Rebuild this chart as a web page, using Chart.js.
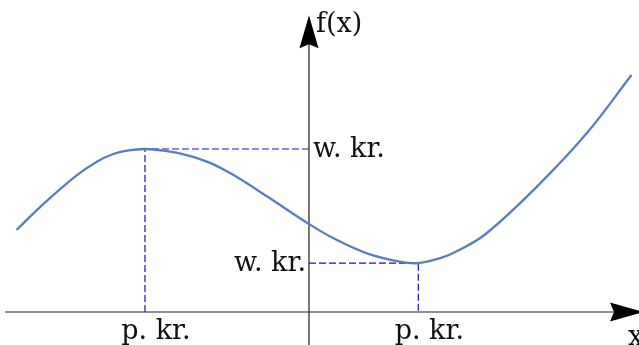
<!DOCTYPE html>
<html>
<head>
<meta charset="utf-8">
<script src="https://cdn.jsdelivr.net/npm/chart.js@4"></script>
<style>
  html, body { margin: 0; padding: 0; background: #fff; }
  #wrap { width: 639px; height: 345px; }
</style>
</head>
<body>
<div id="wrap"><canvas id="chart"></canvas></div>
<script>
// Function sketch with two critical points

const curveX = [-5.35, -4.86, -4.25, -3.88, -3.58, -3.33, -3, -2.66, -2.24, -1.81, -1.38, -0.77,
  0, 0.45, 1.06, 1.66, 2, 2.4, 2.76, 3.25, 4.17, 5.08, 5.9];
const curveY = [5.03, 6.62, 8.38, 9.22, 9.69, 9.9, 10, 9.9, 9.63, 9.15, 8.4, 7.1,
  5.4, 4.52, 3.6, 3.09, 3, 3.3, 3.82, 4.83, 7.69, 10.96, 14.54];

// critical points: x of extremum, value at extremum
const critX = [-3, 2];
const critY = [10, 3];

const xTickLabel = "p. kr.";
const yTickLabel = "w. kr.";
const xAxisTitle = "x";
const yAxisTitle = "f(x)";

// extents of the drawn axes (data units)
const xAxisFrom = -5.56;
const xAxisTo = 6.11;
const yAxisTo = 18.2;

const curvePoints = curveX.map((x, i) => ({ x: x, y: curveY[i] }));

const guideSets = critX.map((cx, i) => ({
  data: [
    { x: 0, y: critY[i] },
    { x: cx, y: critY[i] },
    { x: cx, y: 0 },
  ],
  showLine: true,
  borderColor: "#1616b0",
  borderWidth: 1.2,
  borderDash: [7, 3],
  pointRadius: 0,
  tension: 0,
}));

const arrow = (ctx, tx, ty, dx, dy) => {
  const len = 33, half = 9.5, notch = 4;
  const px = -dy, py = dx;
  const bx = tx - dx * len, by = ty - dy * len;
  ctx.beginPath();
  ctx.moveTo(tx, ty);
  ctx.lineTo(bx + px * half, by + py * half);
  ctx.lineTo(bx + dx * notch, by + dy * notch);
  ctx.lineTo(bx - px * half, by - py * half);
  ctx.closePath();
  ctx.fill();
};

const axesPlugin = {
  id: "axes",
  beforeDatasetsDraw(chart) {
    const { ctx, scales: { x, y } } = chart;
    const x0 = x.getPixelForValue(0);
    const y0 = y.getPixelForValue(0);
    const xEnd = x.getPixelForValue(xAxisTo);
    const yEnd = y.getPixelForValue(yAxisTo);
    ctx.save();
    ctx.strokeStyle = "#222";
    ctx.fillStyle = "#000";
    ctx.lineWidth = 1.2;
    ctx.beginPath();
    ctx.moveTo(x.getPixelForValue(xAxisFrom), y0);
    ctx.lineTo(xEnd - 20, y0);
    ctx.moveTo(x0, y.getPixelForValue(y.min));
    ctx.lineTo(x0, yEnd + 20);
    ctx.stroke();
    arrow(ctx, xEnd, y0, 1, 0);
    arrow(ctx, x0, yEnd, 0, -1);
    ctx.restore();
  },
  afterDatasetsDraw(chart) {
    const { ctx, scales: { x, y } } = chart;
    const x0 = x.getPixelForValue(0);
    const y0 = y.getPixelForValue(0);
    ctx.save();
    ctx.fillStyle = "#111";
    ctx.font = '27px "DejaVu Serif"';
    ctx.textBaseline = "alphabetic";
    critX.forEach((cx, i) => {
      ctx.textAlign = "center";
      ctx.fillText(xTickLabel, x.getPixelForValue(cx) + 11, y0 + 27);
      const py = y.getPixelForValue(critY[i]) + 8;
      if (i === 0) {
        ctx.textAlign = "left";
        ctx.fillText(yTickLabel, x0 + 4, py);
      } else {
        ctx.textAlign = "right";
        ctx.fillText(yTickLabel, x0 - 3, py);
      }
    });
    ctx.textAlign = "left";
    ctx.fillText(yAxisTitle, x0 + 7, y.getPixelForValue(yAxisTo) + 17);
    ctx.fillText(xAxisTitle, x.getPixelForValue(xAxisTo) - 15, y0 + 33);
    ctx.restore();
  },
};

new Chart(document.getElementById("chart").getContext("2d"), {
  type: "scatter",
  data: {
    datasets: [
      {
        data: curvePoints,
        showLine: true,
        borderColor: "#5a7ebd",
        borderWidth: 2.3,
        pointRadius: 0,
        tension: 0.4,
      },
      ...guideSets,
    ],
  },
  options: {
    responsive: true,
    maintainAspectRatio: false,
    animation: false,
    devicePixelRatio: 1,
    layout: { padding: 0 },
    scales: {
      x: { type: "linear", min: -5.652, max: 6.037, display: false },
      y: { type: "linear", min: -2.025, max: 19.14, display: false },
    },
    plugins: {
      legend: { display: false },
      tooltip: { enabled: false },
    },
  },
  plugins: [axesPlugin],
});
</script>
</body>
</html>
